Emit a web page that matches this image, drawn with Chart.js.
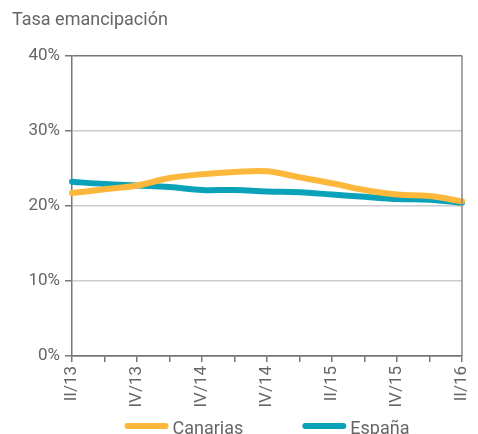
<!DOCTYPE html>
<html><head><meta charset="utf-8">
<script src="https://cdn.jsdelivr.net/npm/chart.js@4/dist/chart.umd.min.js"></script>
<style>html,body{margin:0;padding:0;background:#fff}#wrap{width:478px;height:434px}</style>
</head><body><div id="wrap"><canvas id="c" width="478" height="434"></canvas></div>
<script>
const categories = ['II/13','III/13','IV/13','I/14','II/14','III/14','IV/14','I/15','II/15','III/15','IV/15','I/16','II/16'];
const tickLabels = ['II/13','','IV/13','','IV/14','','IV/14','','II/15','','IV/15','','II/16'];
const canarias = [21.7, 22.2, 22.7, 23.7, 24.2, 24.5, 24.6, 23.8, 23.0, 22.1, 21.5, 21.3, 20.6];
const espana   = [23.2, 22.9, 22.7, 22.5, 22.1, 22.1, 21.9, 21.8, 21.5, 21.2, 20.9, 20.8, 20.4];
const yTicks = [0, 10, 20, 30, 40];

const FONT = 'Roboto, "DejaVu Sans", sans-serif';
const GREY = '#666666';
const AXIS = '#777777';

const bottomLegend = {
  id: 'bottomLegend',
  afterDraw(chart) {
    const ctx = chart.ctx, a = chart.chartArea;
    const ds = chart.data.datasets;
    const lineW = 44, gapText = 4, gapItem = 59, y = 426;
    ctx.save();
    ctx.font = '18px ' + FONT;
    const widths = ds.map(d => ctx.measureText(d.label).width);
    let total = 0;
    ds.forEach((d, i) => { total += lineW + gapText + widths[i] + (i < ds.length - 1 ? gapItem : 0); });
    let x = (a.left + a.right) / 2 - total / 2;
    ds.forEach((d, i) => {
      ctx.strokeStyle = d.borderColor; ctx.lineWidth = 6; ctx.lineCap = 'round';
      ctx.beginPath(); ctx.moveTo(x + 3, y); ctx.lineTo(x + lineW - 3, y); ctx.stroke();
      ctx.fillStyle = GREY; ctx.textBaseline = 'alphabetic'; ctx.textAlign = 'left';
      ctx.fillText(d.label, x + lineW + gapText, 434);
      x += lineW + gapText + widths[i] + gapItem;
    });
    ctx.restore();
  }
};

const rightBorder = {
  id: 'rightBorder',
  afterDatasetsDraw(chart) {
    const a = chart.chartArea, ctx = chart.ctx;
    ctx.save(); ctx.strokeStyle = '#888888'; ctx.lineWidth = 1.5;
    ctx.beginPath(); ctx.moveTo(a.right, a.top); ctx.lineTo(a.right, a.bottom); ctx.stroke();
    ctx.restore();
  }
};

new Chart(document.getElementById('c'), {
  type: 'line',
  data: {
    labels: categories,
    datasets: [
      {label: 'Canarias', data: canarias, borderColor: '#FDB83B', backgroundColor: '#FDB83B', borderWidth: 6, pointRadius: 0, tension: 0.4, fill: false, borderCapStyle: 'round', clip: false},
      {label: 'España', data: espana, borderColor: '#0AA2B9', backgroundColor: '#0AA2B9', borderWidth: 6, pointRadius: 0, tension: 0.4, fill: false, borderCapStyle: 'round', clip: false}
    ]
  },
  options: {
    responsive: false,
    animation: false,
    devicePixelRatio: 1,
    layout: {padding: {left: 12, right: 16, top: 4, bottom: 22}},
    plugins: {
      title: {display: true, text: 'Tasa emancipación', align: 'start', color: GREY,
        font: {family: FONT, size: 18, weight: 'normal'}, padding: {top: 6, bottom: 24}},
      legend: {display: false},
      tooltip: {enabled: false}
    },
    scales: {
      x: {
        offset: false,
        afterFit: (s) => { s.height = 56; s.paddingRight = 0; s.paddingLeft = 0; },
        grid: {display: true, drawOnChartArea: false, drawTicks: true, tickLength: 6, color: AXIS, lineWidth: 1.5},
        border: {display: true, color: AXIS, width: 1.5},
        ticks: {autoSkip: false, maxRotation: 90, minRotation: 90, color: GREY, padding: 4,
          font: {family: FONT, size: 17},
          callback: (v, i) => tickLabels[i]}
      },
      y: {
        min: 0, max: 40,
        afterBuildTicks: (s) => { s.ticks = yTicks.map(v => ({value: v})); },
        afterFit: (s) => { s.width = 60; },
        grid: {color: (ctx) => (ctx.tick && (ctx.tick.value === 0 || ctx.tick.value === 40)) ? AXIS : '#cccccc',
          lineWidth: 1.5, tickLength: 7, tickColor: AXIS},
        border: {display: true, color: AXIS, width: 1.5},
        ticks: {color: GREY, font: {family: FONT, size: 17}, padding: 5, callback: v => v + '%'}
      }
    }
  },
  plugins: [rightBorder, bottomLegend]
});
</script></body></html>
